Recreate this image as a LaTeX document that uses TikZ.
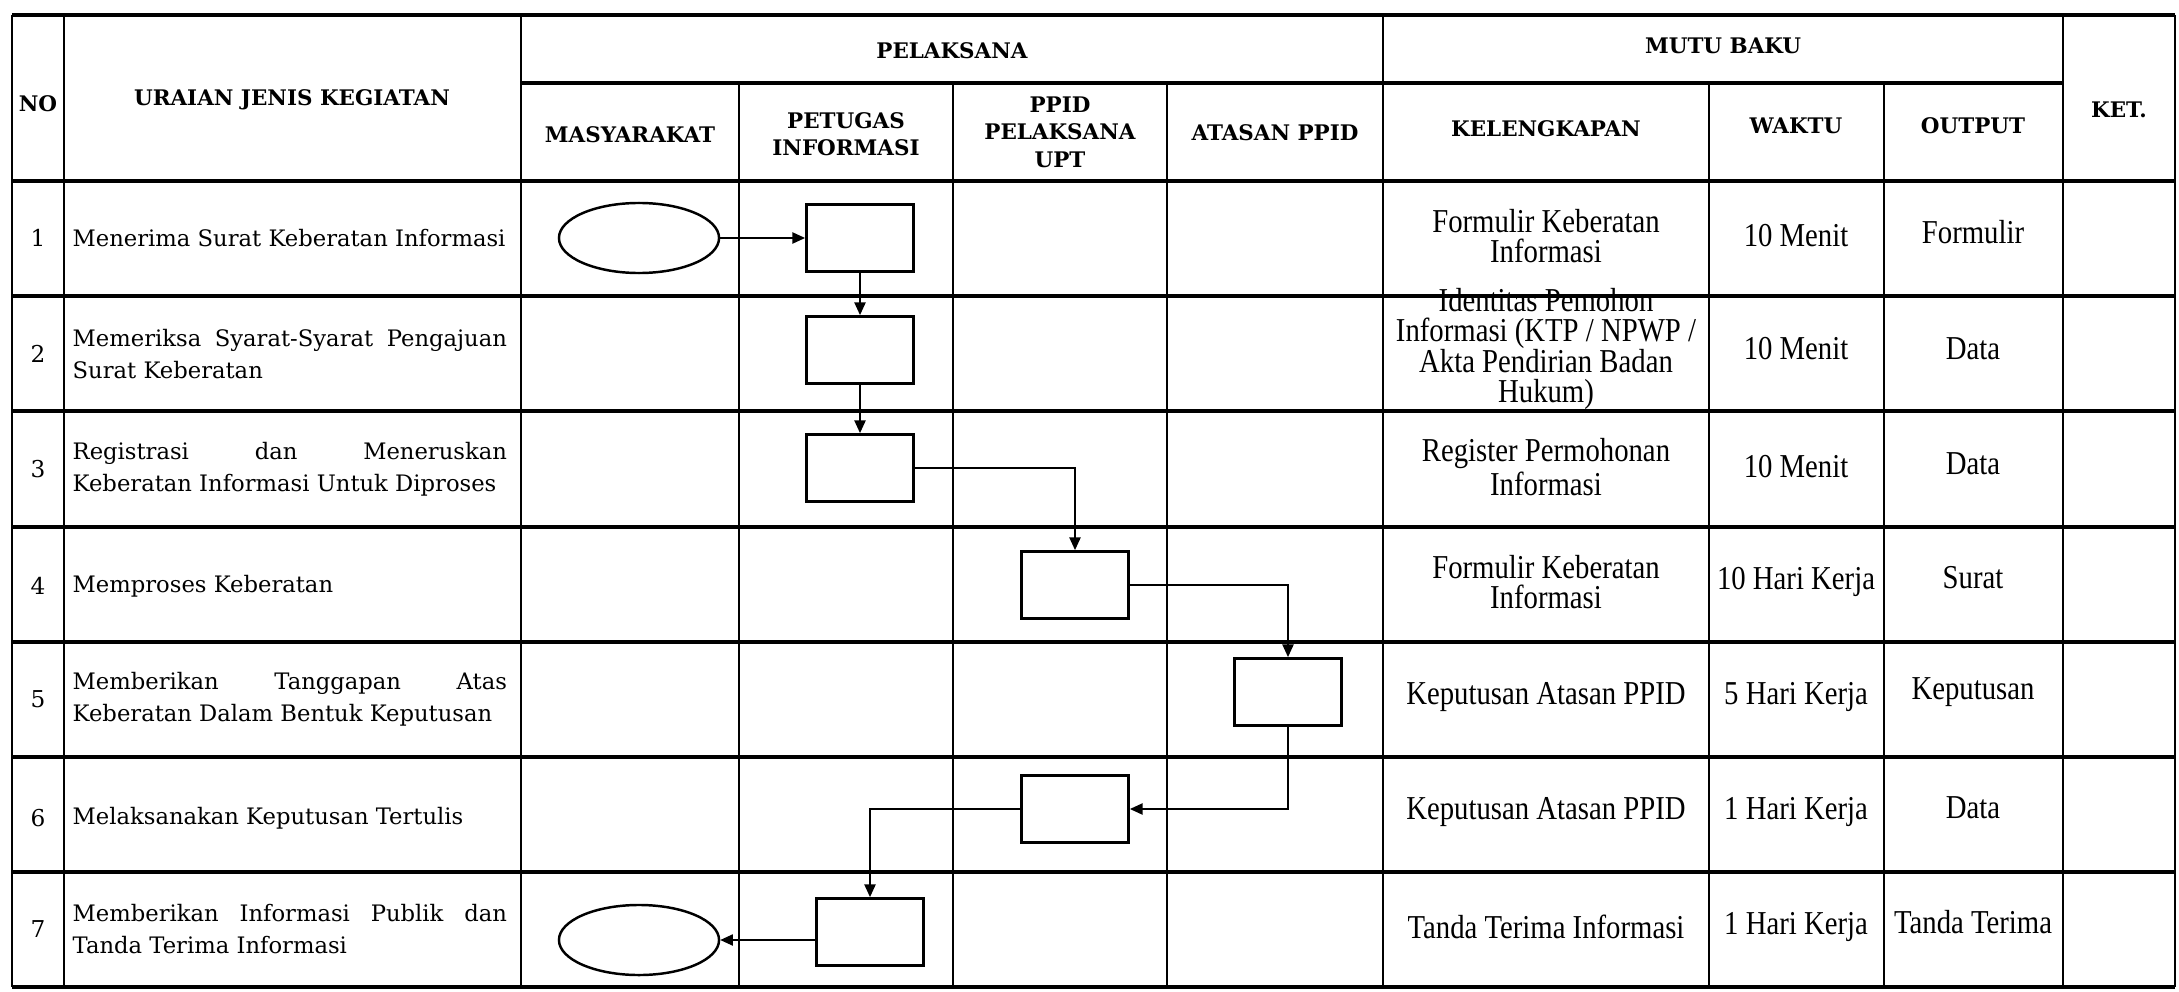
\documentclass[tikz,border=0pt]{standalone}
\usepackage{fontspec}
\setmainfont{DejaVu Serif}
\newfontfamily\mutufont[FakeStretch=0.86]{Liberation Serif}
\usetikzlibrary{arrows.meta,shapes.geometric}
\hyphenpenalty=10000

\begin{document}
\begin{tikzpicture}[x=0.01cm, y=-0.01cm,
    garis/.style={line width=0.6pt},
    garistebal/.style={line width=1.1pt},
    kepala/.style={font=\bfseries\fontsize{6.1}{7.8}\selectfont, align=center, inner sep=0pt},
    nomor/.style={font=\fontsize{6.6}{9.1}\selectfont, inner sep=0pt},
    uraian/.style={font=\fontsize{6.45}{9.1}\selectfont, text width=4.34cm, align=justify, anchor=west, inner sep=0pt},
    mutu/.style={font=\mutufont\fontsize{9.5}{8.7}\selectfont, align=center, inner sep=0pt},
    proses/.style={draw, line width=0.8pt, minimum width=1.07cm, minimum height=0.67cm, inner sep=0pt},
    terminal/.style={draw, ellipse, line width=0.7pt, minimum width=1.6cm, minimum height=0.7cm, inner sep=0pt},
    alur/.style={-{Triangle[length=3.6pt,width=3.2pt]}, line width=0.4pt}]
    \useasboundingbox (0,0) rectangle (2179,991);
    %
    % garis tabel
    \draw[garistebal] (12,15) -- (2175,15);
    \draw[garistebal] (521,83) -- (2063,83);
    \draw[garistebal] (12,181) -- (2175,181);
    \draw[garistebal] (12,296) -- (2175,296);
    \draw[garistebal] (12,411) -- (2175,411);
    \draw[garistebal] (12,527) -- (2175,527);
    \draw[garistebal] (12,642) -- (2175,642);
    \draw[garistebal] (12,757) -- (2175,757);
    \draw[garistebal] (12,872) -- (2175,872);
    \draw[garistebal] (12,987) -- (2175,987);
    \draw[garis] (12,15) -- (12,987);
    \draw[garis] (64,15) -- (64,987);
    \draw[garis] (521,15) -- (521,987);
    \draw[garis] (739,83) -- (739,987);
    \draw[garis] (953,83) -- (953,987);
    \draw[garis] (1167,83) -- (1167,987);
    \draw[garis] (1383,15) -- (1383,987);
    \draw[garis] (1709,83) -- (1709,987);
    \draw[garis] (1884,83) -- (1884,987);
    \draw[garis] (2063,15) -- (2063,987);
    \draw[garis] (2175,15) -- (2175,987);
    %
    % kepala tabel
    \node[kepala] (hNo)        at (38,104)   {NO};
    \node[kepala] (hUraian)    at (292,100)  {URAIAN JENIS KEGIATAN};
    \node[kepala] (hPelaksana) at (952,51)   {PELAKSANA};
    \node[kepala] (hMutu)      at (1723,46)  {MUTU BAKU};
    \node[kepala] (hKet)       at (2119,110) {KET.};
    \node[kepala] (hMasy)      at (630,135)  {MASYARAKAT};
    \node[kepala] (hPetugas)   at (846,134)  {PETUGAS\\INFORMASI};
    \node[kepala] (hPpid)      at (1060,132) {PPID\\PELAKSANA\\UPT};
    \node[kepala] (hAtasan)    at (1275,133) {ATASAN PPID};
    \node[kepala] (hLengkap)   at (1546,129) {KELENGKAPAN};
    \node[kepala] (hWaktu)     at (1796,126) {WAKTU};
    \node[kepala] (hOutput)    at (1973,126) {OUTPUT};
    %
    % nomor dan uraian
    \node[nomor] (n1) at (38,238) {1};
    \node[nomor] (n2) at (38,354) {2};
    \node[nomor] (n3) at (38,469) {3};
    \node[nomor] (n4) at (38,586) {4};
    \node[nomor] (n5) at (38,699) {5};
    \node[nomor] (n6) at (38,818) {6};
    \node[nomor] (n7) at (38,929) {7};
    \node[uraian] (u1) at (72,238) {Menerima Surat Keberatan Informasi};
    \node[uraian] (u2) at (72,354) {Memeriksa Syarat-Syarat Pengajuan\linebreak Surat Keberatan};
    \node[uraian] (u3) at (72,469) {Registrasi dan Meneruskan\linebreak Keberatan Informasi Untuk Diproses};
    \node[uraian] (u4) at (72,586) {Memproses Keberatan};
    \node[uraian] (u5) at (72,699) {Memberikan Tanggapan Atas\linebreak Keberatan Dalam Bentuk Keputusan};
    \node[uraian] (u6) at (72,818) {Melaksanakan Keputusan Tertulis};
    \node[uraian] (u7) at (72,929) {Memberikan Informasi Publik dan\linebreak Tanda Terima Informasi};
    %
    % mutu baku
    \node[mutu] (k1) at (1546,236) {Formulir Keberatan\\Informasi};
    \node[mutu] (k2) at (1546,349) {Identitas Pemohon\\Informasi (KTP / NPWP /\\Akta Pendirian Badan\\Hukum)};
    \node[mutu] (k3) at (1546,467) {Register Permohonan\\Informasi};
    \node[mutu] (k4) at (1546,582) {Formulir Keberatan\\Informasi};
    \node[mutu] (k5) at (1546,697) {Keputusan Atasan PPID};
    \node[mutu] (k6) at (1546,812) {Keputusan Atasan PPID};
    \node[mutu] (k7) at (1546,927) {Tanda Terima Informasi};
    \node[mutu] (w1) at (1796,236) {10 Menit};
    \node[mutu] (w2) at (1796,349) {10 Menit};
    \node[mutu] (w3) at (1796,467) {10 Menit};
    \node[mutu] (w4) at (1796,582) {10 Hari Kerja};
    \node[mutu] (w5) at (1796,697) {5 Hari Kerja};
    \node[mutu] (w6) at (1796,812) {1 Hari Kerja};
    \node[mutu] (w7) at (1796,927) {1 Hari Kerja};
    \node[mutu] (o1) at (1973,232) {Formulir};
    \node[mutu] (o2) at (1973,349) {Data};
    \node[mutu] (o3) at (1973,464) {Data};
    \node[mutu] (o4) at (1973,578) {Surat};
    \node[mutu] (o5) at (1973,692) {Keputusan};
    \node[mutu] (o6) at (1973,808) {Data};
    \node[mutu] (o7) at (1973,922) {Tanda Terima};
    %
    % bagan alir
    \node[terminal] (t1) at (639,238)  {};
    \node[proses]   (p1) at (860,238)  {};
    \node[proses]   (p2) at (860,350)  {};
    \node[proses]   (p3) at (860,468)  {};
    \node[proses]   (p4) at (1075,585) {};
    \node[proses]   (p5) at (1288,692) {};
    \node[proses]   (p6) at (1075,809) {};
    \node[proses]   (p7) at (870,932)  {};
    \node[terminal] (t7) at (639,940)  {};
    %
    \draw[alur] (t1) -- (p1);
    \draw[alur] (p1) -- (p2);
    \draw[alur] (p2) -- (p3);
    \draw[alur] (p3) -| (p4);
    \draw[alur] (p4) -| (p5);
    \draw[alur] (p5) |- (p6);
    \draw[alur] (p6) -| (p7);
    \draw[alur] (p7.west |- t7) -- (t7);
\end{tikzpicture}
\end{document}
